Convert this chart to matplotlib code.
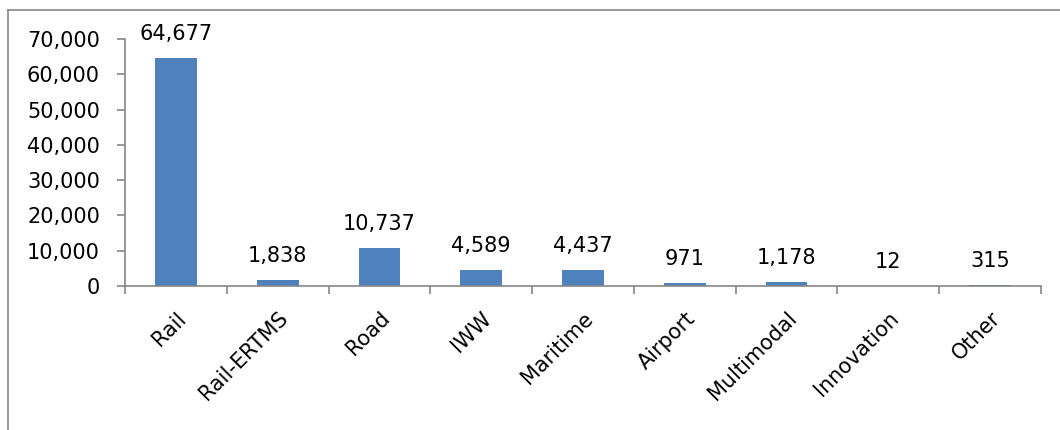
import matplotlib
matplotlib.use("Agg")
import matplotlib.pyplot as plt
from matplotlib.lines import Line2D
from matplotlib.ticker import FuncFormatter, MultipleLocator, FixedLocator

categories = ["Rail", "Rail-ERTMS", "Road", "IWW", "Maritime", "Airport",
              "Multimodal", "Innovation", "Other"]
values = [64677, 1838, 10737, 4589, 4437, 971, 1178, 12, 315]

plt.rcParams['font.family'] = ['DejaVu Sans']
FS = 15

fig = plt.figure(figsize=(10.6, 4.3), dpi=100)
ax = fig.add_axes([125/1060, 1-286/430, (1041-125)/1060, (286-39)/430])

x = list(range(len(categories)))
bars = ax.bar(x, values, width=0.41, color="#4F81BD")
for xi, v in zip(x, values):
    ax.annotate(f"{v:,}", (xi, v), xytext=(0, 10), textcoords="offset points",
                ha="center", va="bottom", fontsize=FS, color="#000000")

ax.set_xlim(-0.5, len(categories) - 0.5)
ax.set_ylim(0, 70000)
ax.yaxis.set_major_locator(MultipleLocator(10000))
ax.yaxis.set_major_formatter(FuncFormatter(lambda v, p: f"{int(v):,}"))
ax.set_xticks(x)
ax.set_xticklabels(categories, rotation=45, ha="right", rotation_mode="anchor",
                   fontsize=FS)
ax.xaxis.set_minor_locator(FixedLocator([i - 0.5 for i in range(len(categories) + 1)]))
ax.tick_params(axis="x", which="major", length=0, pad=16)
ax.tick_params(axis="x", which="minor", length=6, width=1.2, color="#868686", direction="out")
ax.tick_params(axis="y", length=6, width=1.2, color="#868686", labelsize=FS, pad=12)

for s in ["top", "right"]:
    ax.spines[s].set_visible(False)
for s in ["left", "bottom"]:
    ax.spines[s].set_color("#868686")
    ax.spines[s].set_linewidth(1.2)

# outer chart border (partially cropped)
fig.add_artist(Line2D([8/1060, 8/1060], [0, 1-10/430], transform=fig.transFigure,
                      color="#868686", lw=1.2))
fig.add_artist(Line2D([8/1060, 1], [1-10/430, 1-10/430], transform=fig.transFigure,
                      color="#868686", lw=1.2))

fig.savefig("out.png", dpi=100)
